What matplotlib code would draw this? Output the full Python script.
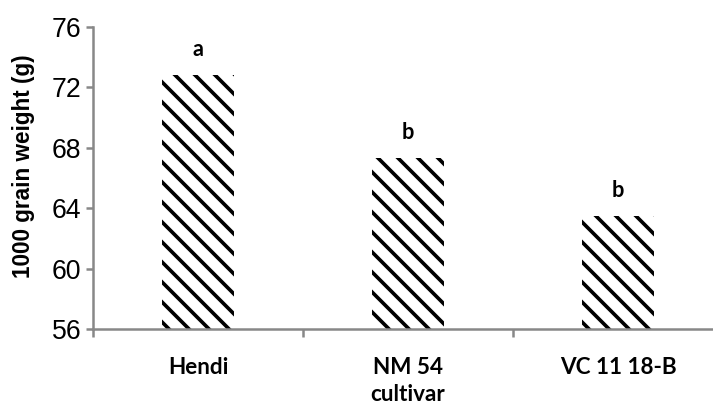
import numpy as np
import matplotlib.pyplot as plt

cultivars = ["Hendi", "NM 54", "VC 11 18-B"]
weights = [72.8, 67.3, 63.5]  # 1000 grain weight (g)
letters = ["a", "b", "b"]
yticks = [56, 60, 64, 68, 72, 76]

dpi = 120
plt.rcParams['hatch.linewidth'] = 2.2
plt.rcParams['hatch.color'] = 'black'

fig = plt.figure(figsize=(713 / dpi, 408 / dpi), dpi=dpi)
# axis runs off the right edge like in the original
ax = fig.add_axes([93 / 713, 79 / 408, 630 / 713, 302 / 408])

x = np.arange(len(cultivars))
ax.bar(x, np.array(weights) - 56, bottom=56, width=0.343, color='white',
       edgecolor='black', linewidth=0, hatch='\\\\')

for xi, w, l in zip(x, weights, letters):
    ax.text(xi, w + 1.0, l, ha='center', va='bottom', fontsize=13,
            fontfamily='Lato', fontweight='bold')

ax.set_xlim(-0.5, 2.5)
ax.set_ylim(56, 76)
ax.set_yticks(yticks)
ax.set_yticklabels([str(t) for t in yticks], fontsize=16, fontfamily='Liberation Sans')
ax.set_xticks([-0.5, 0.5, 1.5, 2.5])
ax.set_xticklabels([])
ax.set_xticks(x, minor=True)
ax.set_xticklabels(cultivars, minor=True, fontsize=13.5, fontfamily='Lato', fontweight='bold')
ax.tick_params(axis='x', which='minor', length=0, pad=17)
ax.tick_params(axis='x', which='major', length=5, width=1.5, color='#888888')
ax.tick_params(axis='y', length=4, width=1.5, color='#888888', pad=3)

for s in ['top', 'right']:
    ax.spines[s].set_visible(False)
for s in ['left', 'bottom']:
    ax.spines[s].set_color('#888888')
    ax.spines[s].set_linewidth(1.5)

ax.set_ylabel("1000 grain weight (g)", fontsize=13.5, fontweight='bold',
              family=['Liberation Sans', 'DejaVu Sans'])
ax.yaxis.set_label_coords(-58 / 630, 0.54)
ax.set_xlabel("cultivar", fontsize=13.5, fontfamily='Lato', fontweight='bold')
ax.xaxis.set_label_coords(315 / 630, -0.183)

fig.savefig("out.png", dpi=dpi)
